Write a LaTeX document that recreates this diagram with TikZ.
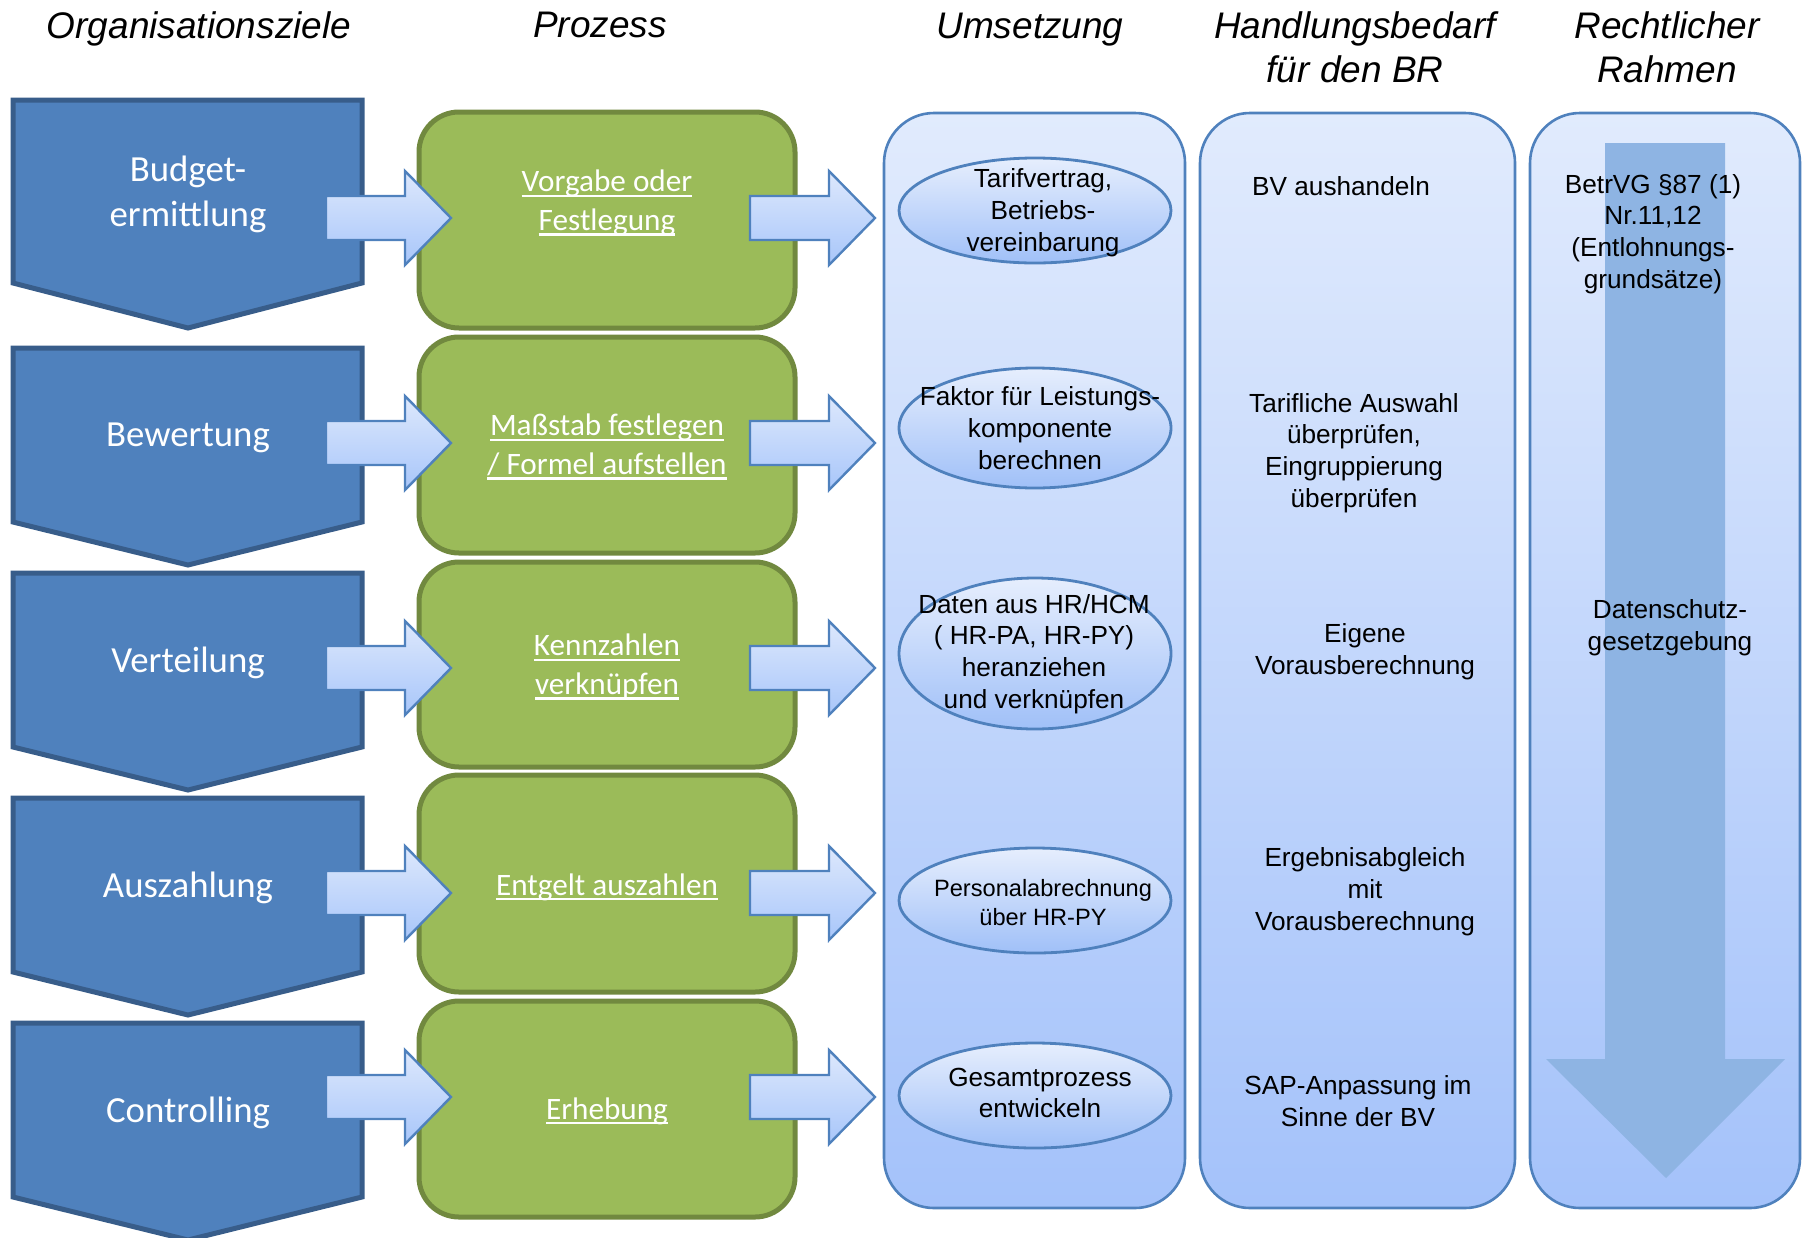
\documentclass[tikz,border=0pt]{standalone}
\usepackage{fontspec}
\setmainfont{Liberation Sans}
\newfontfamily\carl{Carlito}
\usetikzlibrary{shapes.geometric}
\definecolor{chevFill}{HTML}{4F81BD}
\definecolor{chevDraw}{HTML}{385D8A}
\definecolor{grFill}{HTML}{9BBB59}
\definecolor{grDraw}{HTML}{71893F}
\definecolor{colTop}{HTML}{E1EBFD}
\definecolor{colBot}{HTML}{A4C2FA}
\definecolor{colDraw}{HTML}{4F81BD}
\definecolor{bigArr}{HTML}{8EB4E3}
\definecolor{elTop}{HTML}{E6EEFD}
\definecolor{elBot}{HTML}{A0C0F8}
\definecolor{arTop}{HTML}{DDE8FC}
\definecolor{arBot}{HTML}{A8C6FA}
\newsavebox\ulbox
\newcommand\ulx[1]{\sbox\ulbox{#1}\rlap{\rule[-0.17em]{\wd\ulbox}{0.08em}}\usebox\ulbox}
\tikzset{
  chevron/.style={fill=chevFill, draw=chevDraw, line width=2.5pt, line join=miter},
  procbox/.style={rectangle, rounded corners=20pt, fill=grFill, draw=grDraw, line width=2.5pt, minimum width=188pt, inner sep=0pt},
  column/.style={draw=colDraw, line width=1.3pt, top color=colTop, bottom color=colBot, rounded corners=25pt},
  ell/.style={ellipse, draw=colDraw, line width=1.4pt, top color=elTop, bottom color=elBot, minimum width=136pt, inner sep=0pt},
  hdr/.style={font=\itshape\fontsize{18.5}{22}\selectfont, align=center, inner sep=0pt},
  chevtxt/.style={font=\carl\fontsize{18.4}{22.5}\selectfont, text=white, align=center, inner sep=0pt},
  proctxt/.style={font=\carl\fontsize{15.6}{19.25}\selectfont, text=white, align=center, inner sep=0pt},
  body/.style={font=\fontsize{13.1}{15.9}\selectfont, align=center, inner sep=0pt},
  smallbody/.style={font=\fontsize{11.8}{14.5}\selectfont, align=center, inner sep=0pt},
  barrow/.pic={\path[draw=colDraw, line width=1.2pt, top color=arTop, bottom color=arBot]
     (0,-22) -- (79,-22) -- (79,-47) -- (125,0) -- (79,47) -- (79,22) -- (0,22) -- cycle;}
}
\begin{document}
\begin{tikzpicture}[x=0.5pt,y=-0.5pt]
\useasboundingbox (0,0) rectangle (1802,1237);
% headers
\node[hdr, anchor=base] (h1) at (199,38) {Organisationsziele};
\node[hdr, anchor=base] (h2) at (600,37) {Prozess};
\node[hdr, anchor=base] (h3) at (1030,38) {Umsetzung};
\node[hdr, anchor=base] (h4) at (1355,82) {Handlungsbedarf\\für den BR};
\node[hdr, anchor=base] (h5) at (1667,82) {Rechtlicher\\Rahmen};
% columns
\path[column] (884,113) rectangle (1185,1208);
\path[column] (1200,113) rectangle (1515,1208);
\path[column] (1530,113) rectangle (1800,1208);
% big arrow
\fill[bigArr] (1605,143) -- (1725,143) -- (1725,1059) -- (1785,1059) -- (1666,1178) -- (1546,1059) -- (1605,1059) -- cycle;
% ellipses
\node[ell, minimum height=52.5pt] (e1) at (1035,210.5) {};
\node[ell, minimum height=60pt] (e2) at (1035,428) {};
\node[ell, minimum height=75.5pt] (e3) at (1035,653.5) {};
\node[ell, minimum height=52.5pt] (e4) at (1035,900.5) {};
\node[ell, minimum height=52.5pt] (e5) at (1035,1095.5) {};
% chevrons
\foreach \t/\s/\p in {100/283/328, 348/522/565, 573/747/790, 798/972/1015, 1023/1197/1240}
  \draw[chevron] (13,\t) -- (362,\t) -- (362,\s) -- (188,\p) -- (13,\s) -- cycle;
% process boxes
\node[procbox, minimum height=108pt] (p1) at (607,220) {};
\node[procbox, minimum height=108pt] (p2) at (607,445) {};
\node[procbox, minimum height=102.5pt] (p3) at (607,664.5) {};
\node[procbox, minimum height=108.5pt] (p4) at (607,883.5) {};
\node[procbox, minimum height=108pt] (p5) at (607,1109) {};
% block arrows
\foreach \y in {218,443,668,893,1097} {
  \pic at (326,\y) {barrow};
  \pic at (750,\y) {barrow};
}
% chevron texts
\node[chevtxt] (c1) at (188,194) {Budget-\\ermittlung};
\node[chevtxt] (c2) at (188,438) {Bewertung};
\node[chevtxt] (c3) at (188,663) {Verteilung};
\node[chevtxt] (c4) at (188,888) {Auszahlung};
\node[chevtxt] (c5) at (188,1113) {Controlling};
% process texts
\node[proctxt] (t1) at (607,203) {\ulx{Vorgabe oder}\\\ulx{Festlegung}};
\node[proctxt] (t2) at (607,447) {\ulx{Maßstab festlegen}\\\ulx{/ Formel aufstellen}};
\node[proctxt] (t3) at (607,667) {\ulx{Kennzahlen}\\\ulx{verknüpfen}};
\node[proctxt] (t4) at (607,887) {\ulx{Entgelt auszahlen}};
\node[proctxt] (t5) at (607,1111) {\ulx{Erhebung}};
% ellipse texts
\node[body] (u1) at (1043,213) {Tarifvertrag,\\Betriebs-\\vereinbarung};
\node[body] (u2) at (1040,428) {Faktor für Leistungs-\\komponente\\berechnen};
\node[body] (u3) at (1034,654) {Daten aus HR/HCM\\( HR-PA, HR-PY)\\heranziehen\\und verknüpfen};
\node[smallbody] (u4) at (1043,903) {Personalabrechnung\\über HR-PY};
\node[body] (u5) at (1040,1093) {Gesamtprozess\\entwickeln};
% column 2 texts
\node[body] (b1) at (1341,186) {BV aushandeln};
\node[body] (b2) at (1354,453) {Tarifliche Auswahl\\überprüfen,\\Eingruppierung\\überprüfen};
\node[body] (b3) at (1365,652) {Eigene\\Vorausberechnung};
\node[body] (b4) at (1365,892) {Ergebnisabgleich\\mit\\Vorausberechnung};
\node[body] (b5) at (1358,1101) {SAP-Anpassung im\\Sinne der BV};
% column 3 texts
\node[body] (r1) at (1653,234) {BetrVG §87 (1)\\Nr.11,12\\(Entlohnungs-\\grundsätze)};
\node[body] (r2) at (1670,628) {Datenschutz-\\gesetzgebung};
\end{tikzpicture}
\end{document}
